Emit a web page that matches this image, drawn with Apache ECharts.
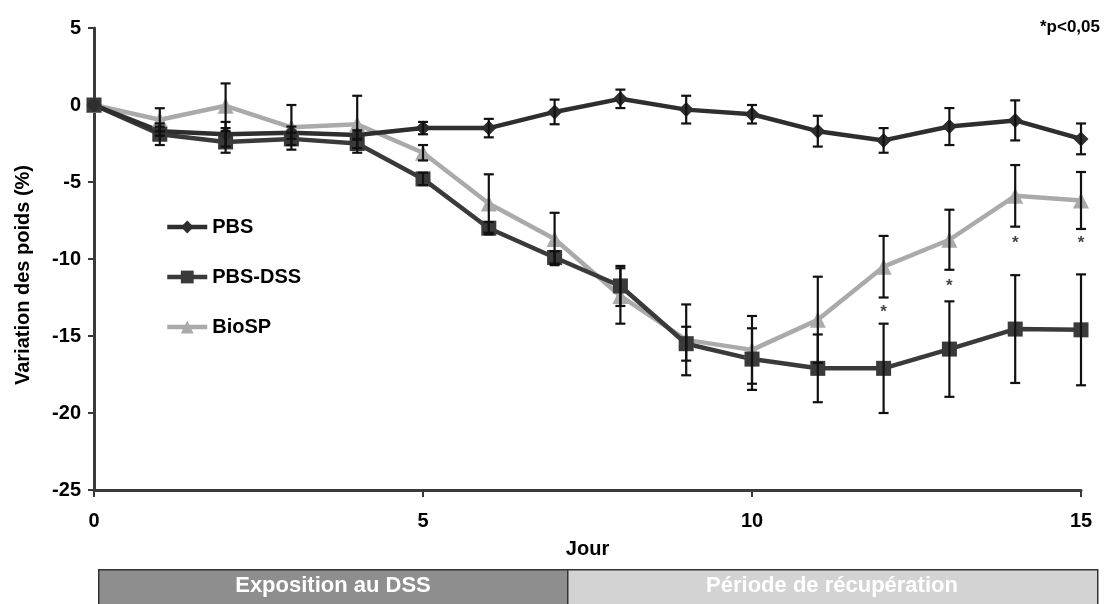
<!DOCTYPE html>
<html><head><meta charset="utf-8">
<script src="https://cdn.jsdelivr.net/npm/echarts@6/dist/echarts.min.js"></script>
<style>html,body{margin:0;padding:0;background:#fff}#c{width:1107px;height:604px}</style>
</head><body><div id="c"></div>
<script>
const days = [0,1,2,3,4,5,6,7,8,9,10,11,12,13,14,15];
const pbs    = [0,-1.7,-1.9,-1.8,-1.95,-1.5,-1.5,-0.45,0.4,-0.3,-0.6,-1.7,-2.3,-1.4,-1.0,-2.2];
const pbsErr = [0,0.3,0.8,0.4,0.3,0.4,0.6,0.8,0.6,0.9,0.6,1.0,0.8,1.2,1.3,1.0];
const dss    = [0,-1.9,-2.4,-2.2,-2.5,-4.8,-8.0,-9.9,-11.75,-15.5,-16.5,-17.1,-17.1,-15.85,-14.55,-14.6];
const dssErr = [0,0.7,0.7,0.4,0.3,0.4,0.4,0.4,1.3,1.1,2.0,2.2,2.9,3.1,3.5,3.6];
const bio    = [0,-0.96,-0.05,-1.45,-1.25,-3.1,-6.4,-8.7,-12.4,-15.25,-15.9,-13.95,-10.5,-8.75,-5.9,-6.2];
const bioErr = [0,0.75,1.45,1.45,1.85,0.5,1.9,1.7,1.8,2.3,2.2,2.8,2.0,1.95,2.0,1.85];
const starDays = [12,13,14,15];
const starPos  = [-13.2,-11.5,-8.7,-8.7];
const yTicks = [-25,-20,-15,-10,-5,0,5];
const xTicks = [0,5,10,15];
const yTitle = 'Variation des poids (%)';
const xTitle = 'Jour';
const phases = ['Exposition au DSS','Période de récupération'];

const chart = echarts.init(document.getElementById('c'));
const F = 'Liberation Sans, Arial, sans-serif';

function errSeries(vals, errs, name){
  return {
    type:'custom', name: name+'_err', z:5, silent:true,
    data: days.map((d,i)=>[d, vals[i]-errs[i], vals[i]+errs[i]]),
    renderItem(params, api){
      const x = api.value(0);
      const lo = api.coord([x, api.value(1)]);
      const hi = api.coord([x, api.value(2)]);
      if (Math.abs(hi[1]-lo[1]) < 1) return null;
      const w = 5;
      const st = {stroke:'#111', lineWidth:2.2};
      return {type:'group', children:[
        {type:'line', shape:{x1:lo[0],y1:lo[1],x2:hi[0],y2:hi[1]}, style:st},
        {type:'line', shape:{x1:lo[0]-w,y1:lo[1],x2:lo[0]+w,y2:lo[1]}, style:st},
        {type:'line', shape:{x1:hi[0]-w,y1:hi[1],x2:hi[0]+w,y2:hi[1]}, style:st}
      ]};
    }
  };
}
function lineSeries(name, vals, color, symbol, size){
  return {
    type:'line', name, z:3, symbol, symbolSize:size,
    data: days.map((d,i)=>[d, vals[i]]),
    lineStyle:{color, width:4.5}, itemStyle:{color},
    emphasis:{disabled:true}
  };
}

chart.setOption({
  animation:false,
  grid:{left:94, right:26, top:28, bottom:114},
  xAxis:{
    type:'value', min:0, max:15, interval:5,
    name:xTitle, nameLocation:'middle', nameGap:49,
    nameTextStyle:{fontFamily:F, fontWeight:'bold', fontSize:20, color:'#000'},
    axisLine:{onZero:false, lineStyle:{color:'#3a3a3a', width:3}},
    axisTick:{length:7, lineStyle:{color:'#3a3a3a', width:2}},
    axisLabel:{fontFamily:F, fontWeight:'bold', fontSize:20, color:'#000', margin:21,
      formatter:v=>xTicks.includes(v)?String(v):''},
    splitLine:{show:false}
  },
  yAxis:{
    type:'value', min:-25, max:5, interval:5,
    axisLine:{show:true, lineStyle:{color:'#3a3a3a', width:3}},
    axisTick:{show:true, length:6, lineStyle:{color:'#3a3a3a', width:2}},
    axisLabel:{fontFamily:F, fontWeight:'bold', fontSize:20, color:'#000', margin:13,
      formatter:v=>yTicks.includes(v)?String(v):''},
    splitLine:{show:false}
  },
  legend:{
    orient:'vertical', left:160, top:212, itemGap:30, itemWidth:40, itemHeight:16,
    data:['PBS','PBS-DSS','BioSP'],
    lineStyle:{width:4.5},
    textStyle:{fontFamily:F, fontWeight:'bold', fontSize:20, color:'#000'},
    selectedMode:false
  },
  series:[
    lineSeries('BioSP', bio, '#aaaaaa', 'triangle', 16),
    lineSeries('PBS-DSS', dss, '#3a3a3a', 'rect', 15),
    lineSeries('PBS', pbs, '#2e2e2e', 'diamond', 15),
    errSeries(pbs, pbsErr, 'PBS'),
    errSeries(dss, dssErr, 'PBS-DSS'),
    errSeries(bio, bioErr, 'BioSP'),
    {
      type:'scatter', name:'stars', symbolSize:0, silent:true, z:6,
      data: starDays.map((d,i)=>[d, starPos[i]]),
      label:{show:true, position:'inside', formatter:'*', fontFamily:F, fontWeight:'bold', fontSize:17, color:'#111', offset:[0,4]}
    }
  ],
  graphic:[
    {type:'text', x:23, y:275, rotation:Math.PI/2, style:{text:yTitle, font:'bold 20px '+F, fill:'#000', align:'center', verticalAlign:'middle'}},
    {type:'text', right:7, top:19, style:{text:'*p<0,05', font:'bold 17px '+F, fill:'#000'}},
    {type:'rect', left:98, top:569, shape:{width:469, height:40}, style:{fill:'#8e8e8e', stroke:'#333', lineWidth:1.5}},
    {type:'rect', left:567, top:569, shape:{width:530, height:40}, style:{fill:'#d3d3d3', stroke:'#333', lineWidth:1.5}},
    {type:'text', x:333, y:586, style:{text:phases[0], font:'bold 22px '+F, fill:'#fff', align:'center', verticalAlign:'middle'}},
    {type:'text', x:832, y:586, style:{text:phases[1], font:'bold 22px '+F, fill:'#fff', align:'center', verticalAlign:'middle'}}
  ]
});
</script></body></html>
